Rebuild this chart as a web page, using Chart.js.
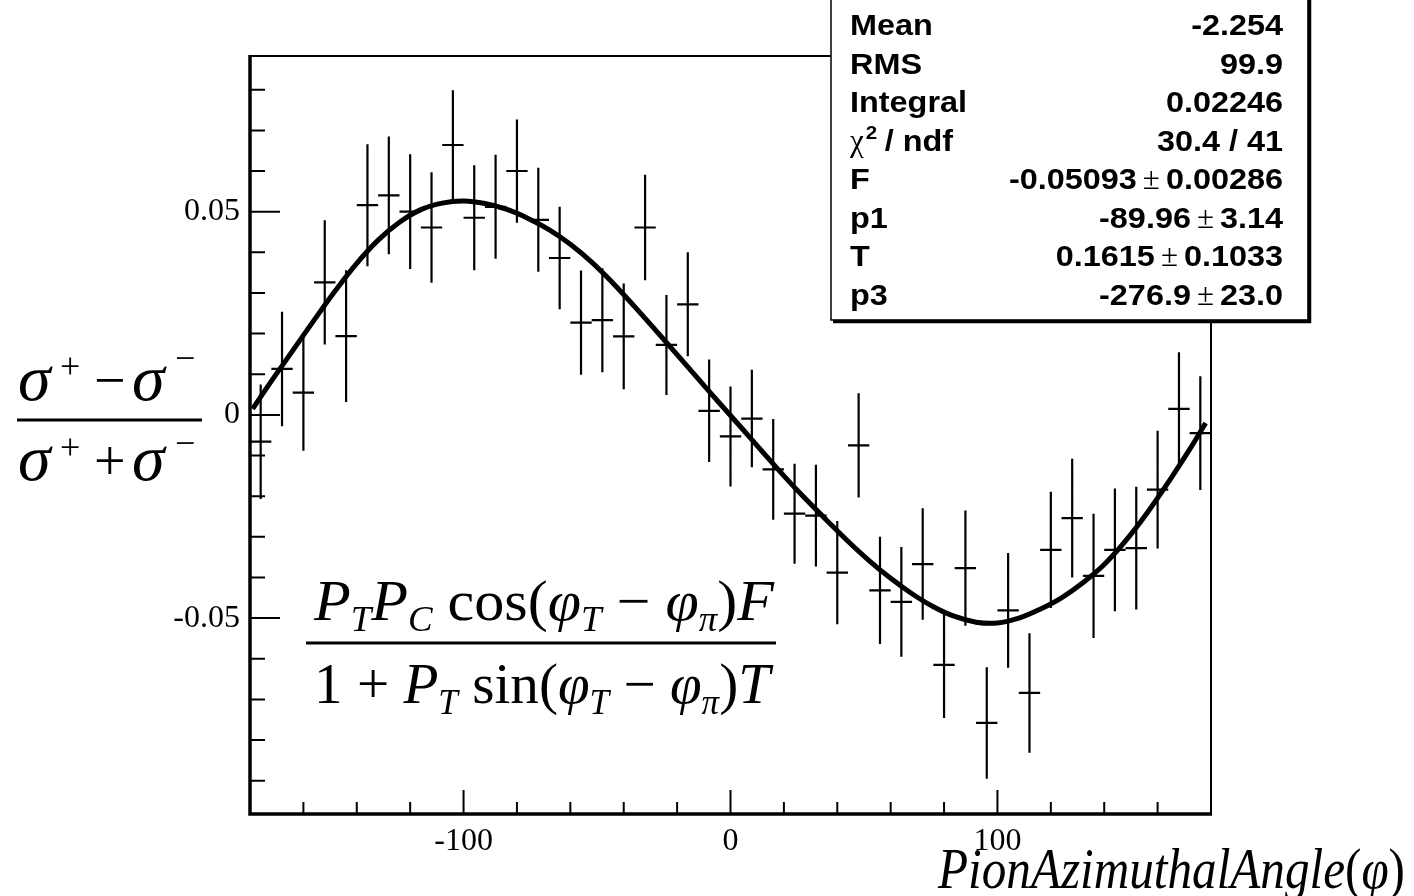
<!DOCTYPE html>
<html lang="en">
<head>
    <meta charset="UTF-8">
    <title>Pion azimuthal asymmetry</title>
    <script src="https://cdn.jsdelivr.net/npm/chart.js"></script>
    <style>
        body { margin: 0; background: #fff; }
        canvas { display: block; }
    </style>
</head>
<body>
    <canvas id="asymChart" width="1414" height="896"></canvas>

    <script>
        // bin centres (8 degree bins from -180 to 180)
        const binCenters = [-176, -168, -160, -152, -144, -136, -128, -120, -112, -104, -96, -88, -80, -72, -64,
            -56, -48, -40, -32, -24, -16, -8, 0, 8, 16, 24, 32, 40, 48, 56, 64, 72, 80, 88, 96, 104, 112,
            120, 128, 136, 144, 152, 160, 168, 176];
        // measured asymmetry per bin
        const asymValues = [-0.0066, 0.0113, 0.0055, 0.0326, 0.0194, 0.0516, 0.0540, 0.0500, 0.0461, 0.0664,
            0.0485, 0.0512, 0.0600, 0.0480, 0.0386, 0.0227, 0.0233, 0.0193, 0.0461, 0.0172, 0.0272, 0.0010,
            -0.0053, -0.0009, -0.0134, -0.0243, -0.0248, -0.0388, -0.0075, -0.0432, -0.0460, -0.0367, -0.0615,
            -0.0377, -0.0758, -0.0481, -0.0684, -0.0332, -0.0254, -0.0396, -0.0332, -0.0328, -0.0184, 0.0015, -0.0045];
        // statistical errors
        const asymErrors = [0.0141, 0.0141, 0.0143, 0.0153, 0.0162, 0.0150, 0.0145, 0.0141, 0.0136, 0.0135,
            0.0129, 0.0128, 0.0127, 0.0128, 0.0126, 0.0128, 0.0128, 0.0130, 0.0130, 0.0123, 0.0128, 0.0126,
            0.0123, 0.0120, 0.0124, 0.0123, 0.0125, 0.0127, 0.0128, 0.0132, 0.0135, 0.0137, 0.0131,
            0.0142, 0.0137, 0.0141, 0.0147, 0.0143, 0.0146, 0.0153, 0.0151, 0.0151, 0.0145, 0.0139, 0.0140];

        // fit curve
        const fitX = [-179, -172, -164, -156, -148, -140, -132, -124, -116, -108, -100, -92, -84, -76, -68, -60,
            -52, -44, -36, -28, -20, -12, -4, 4, 12, 20, 28, 36, 44, 52, 60, 68, 76, 84, 92, 100, 108, 116,
            124, 132, 140, 148, 156, 164, 172, 178];
        const fitY = [0.0015, 0.0083, 0.0158, 0.0233, 0.0306, 0.0373, 0.0430, 0.0474, 0.0505, 0.0521, 0.0526,
            0.0520, 0.0506, 0.0484, 0.0456, 0.0420, 0.0376, 0.0324, 0.0267, 0.0208, 0.0148, 0.0088, 0.0028,
            -0.0031, -0.0091, -0.0150, -0.0206, -0.0259, -0.0311, -0.0359, -0.0402, -0.0440, -0.0472, -0.0496,
            -0.0510, -0.0512, -0.0500, -0.0478, -0.0450, -0.0413, -0.0368, -0.0310, -0.0242, -0.0166, -0.0085, -0.0020];

        // axis ticks
        const xLabelTicks = [-100, 0, 100];
        const xMinorTicks = [-160, -140, -120, -80, -60, -40, -20, 20, 40, 60, 80, 120, 140, 160];
        const yLabelTicks = [-0.05, 0, 0.05];
        const yMinorTicks = [-0.09, -0.08, -0.07, -0.06, -0.04, -0.03, -0.02, -0.01, 0.01, 0.02, 0.03, 0.04, 0.06, 0.07, 0.08];

        // stats box
        const statNames = ['Mean', 'RMS', 'Integral', 'chi2', 'F', 'p1', 'T', 'p3'];
        const statValues = ['-2.254', '99.9', '0.02246', '30.4 / 41', '-0.05093', '-89.96', '0.1615', '-276.9'];
        const statErrors = ['', '', '', '', '0.00286', '3.14', '0.1033', '23.0'];

        const serif = '"Liberation Serif", "Times New Roman", serif';
        const sans = '"Liberation Sans", Arial, sans-serif';

        // draws a run of text pieces (italic / subscript / superscript), optionally squeezed to a width
        function drawRich(ctx, segs, x, baseline, size, targetW) {
            const fontOf = s => (s.it ? 'italic ' : '') + Math.round(s.sub || s.sup ? size * 0.62 : size) + 'px ' + serif;
            let total = 0;
            segs.forEach(s => {
                ctx.font = fontOf(s);
                s.w = ctx.measureText(s.t).width;
                total += s.w;
            });
            const k = targetW ? targetW / total : 1;
            ctx.save();
            ctx.translate(x, baseline);
            ctx.scale(k, 1);
            ctx.textAlign = 'left';
            ctx.textBaseline = 'alphabetic';
            let cx = 0;
            segs.forEach(s => {
                ctx.font = fontOf(s);
                const dy = s.sub ? size * 0.2 : (s.sup ? -size * 0.42 : 0);
                ctx.fillText(s.t, cx, dy);
                cx += s.w;
            });
            ctx.restore();
        }

        // text stretched a little sideways, returns its drawn width
        function wideText(ctx, text, x, y, align, font, sx) {
            ctx.save();
            ctx.font = font;
            ctx.textAlign = align;
            ctx.translate(x, y);
            ctx.scale(sx, 1);
            ctx.fillText(text, 0, 0);
            const w = ctx.measureText(text).width * sx;
            ctx.restore();
            return w;
        }

        const rootStyle = {
            id: 'rootStyle',
            beforeDatasetsDraw(chart) {
                const ctx = chart.ctx;
                const xs = chart.scales.x, ys = chart.scales.y;
                ctx.save();
                ctx.strokeStyle = '#000';
                ctx.lineWidth = 2.2;
                ctx.beginPath();
                binCenters.forEach((c, i) => {
                    const px = xs.getPixelForValue(c);
                    const py = ys.getPixelForValue(asymValues[i]);
                    ctx.moveTo(px, ys.getPixelForValue(asymValues[i] + asymErrors[i]));
                    ctx.lineTo(px, ys.getPixelForValue(asymValues[i] - asymErrors[i]));
                    ctx.moveTo(xs.getPixelForValue(c - 4), py);
                    ctx.lineTo(xs.getPixelForValue(c + 4), py);
                });
                ctx.stroke();
                ctx.restore();
            },
            afterDraw(chart) {
                const ctx = chart.ctx;
                const xs = chart.scales.x, ys = chart.scales.y;
                const a = chart.chartArea;
                ctx.save();
                ctx.fillStyle = '#000';
                ctx.strokeStyle = '#000';

                // frame
                ctx.lineWidth = 2;
                ctx.strokeRect(a.left, a.top, a.right - a.left, a.bottom - a.top);
                ctx.lineWidth = 3.5;
                ctx.beginPath();
                ctx.moveTo(a.left, a.top - 1);
                ctx.lineTo(a.left, a.bottom);
                ctx.lineTo(a.right + 1, a.bottom);
                ctx.stroke();

                // ticks pointing into the frame
                ctx.lineWidth = 2;
                ctx.beginPath();
                xMinorTicks.forEach(v => {
                    const p = xs.getPixelForValue(v);
                    ctx.moveTo(p, a.bottom); ctx.lineTo(p, a.bottom - 12);
                });
                xLabelTicks.forEach(v => {
                    const p = xs.getPixelForValue(v);
                    ctx.moveTo(p, a.bottom); ctx.lineTo(p, a.bottom - 24);
                });
                yMinorTicks.forEach(v => {
                    const p = ys.getPixelForValue(v);
                    ctx.moveTo(a.left, p); ctx.lineTo(a.left + 15, p);
                });
                yLabelTicks.forEach(v => {
                    const p = ys.getPixelForValue(v);
                    ctx.moveTo(a.left, p); ctx.lineTo(a.left + 30, p);
                });
                ctx.stroke();

                // y title: (s+ - s-)/(s+ + s-)
                ctx.textBaseline = 'alphabetic';
                ctx.textAlign = 'left';
                ctx.font = 'italic 66px ' + serif;
                ctx.fillText('σ', 18, 400);
                ctx.fillText('σ', 132, 400);
                ctx.fillText('σ', 18, 480);
                ctx.fillText('σ', 132, 480);
                ctx.font = '36px ' + serif;
                ctx.fillText('+', 60, 378);
                ctx.fillText('\u2212', 175, 370);
                ctx.fillText('+', 60, 459);
                ctx.fillText('\u2212', 175, 455);
                ctx.font = '56px ' + serif;
                ctx.fillText('\u2212', 94, 399);
                ctx.fillText('+', 94, 480);
                ctx.lineWidth = 3;
                ctx.beginPath();
                ctx.moveTo(17, 420); ctx.lineTo(202, 420);
                ctx.stroke();

                // fit function
                drawRich(ctx, [
                    { t: 'P', it: true }, { t: 'T', it: true, sub: true }, { t: 'P', it: true },
                    { t: 'C', it: true, sub: true }, { t: ' cos(' }, { t: 'φ', it: true },
                    { t: 'T', it: true, sub: true }, { t: ' \u2212 ' }, { t: 'φ', it: true },
                    { t: 'π', it: true, sub: true }, { t: ')' }, { t: 'F', it: true }
                ], 314, 620, 57, 460);
                drawRich(ctx, [
                    { t: '1 + ' }, { t: 'P', it: true }, { t: 'T', it: true, sub: true }, { t: ' sin(' },
                    { t: 'φ', it: true }, { t: 'T', it: true, sub: true }, { t: ' \u2212 ' },
                    { t: 'φ', it: true }, { t: 'π', it: true, sub: true }, { t: ')' }, { t: 'T', it: true }
                ], 314, 703, 57, 456);
                ctx.beginPath();
                ctx.moveTo(306, 643); ctx.lineTo(776, 643);
                ctx.stroke();

                // x title
                drawRich(ctx, [
                    { t: 'PionAzimuthalAngle', it: true }, { t: '(' }, { t: 'φ', it: true }, { t: ')' }
                ], 938, 888, 56, 467);

                // stats box
                const bx = 831, br = 1308, bb = 320;
                ctx.fillStyle = '#fff';
                ctx.fillRect(bx, -5, br - bx, bb + 5);
                ctx.lineWidth = 1.5;
                ctx.strokeRect(bx, -5, br - bx, bb + 5);
                ctx.lineWidth = 3.5;
                ctx.beginPath();
                ctx.moveTo(br + 1.5, -5); ctx.lineTo(br + 1.5, bb + 1.5); ctx.lineTo(bx + 2, bb + 1.5);
                ctx.stroke();

                ctx.fillStyle = '#000';
                const bold = 'bold 30px ' + sans;
                const sx = 1.08;
                statNames.forEach((name, i) => {
                    const y = 35 + 38.5 * i;
                    if (name === 'chi2') {
                        const w = wideText(ctx, 'χ', 850, y, 'left', '31px ' + serif, 1);
                        wideText(ctx, '2', 850 + w + 2, y - 12, 'left', 'bold 19px ' + sans, sx);
                        wideText(ctx, ' / ndf', 850 + w + 12, y, 'left', bold, sx);
                    } else {
                        wideText(ctx, name, 850, y, 'left', bold, sx);
                    }
                    let rx = 1283;
                    if (statErrors[i]) {
                        rx -= wideText(ctx, statErrors[i], rx, y, 'right', bold, sx) + 6;
                        rx -= wideText(ctx, '±', rx, y, 'right', '31px ' + serif, 1) + 6;
                    }
                    wideText(ctx, statValues[i], rx, y, 'right', bold, sx);
                });
                ctx.restore();
            }
        };

        const ctx = document.getElementById('asymChart').getContext('2d');
        const asymChart = new Chart(ctx, {
            type: 'scatter',
            data: {
                datasets: [{
                    label: 'asymmetry',
                    data: binCenters.map((c, i) => ({ x: c, y: asymValues[i] })),
                    pointRadius: 0,
                    showLine: false
                }, {
                    label: 'fit',
                    data: fitX.map((x, i) => ({ x: x, y: fitY[i] })),
                    showLine: true,
                    borderColor: '#000',
                    borderWidth: 5,
                    pointRadius: 0,
                    tension: 0.4
                }]
            },
            options: {
                responsive: false,
                animation: false,
                layout: { padding: { left: 0, top: 56, right: 203, bottom: 0 } },
                plugins: {
                    legend: { display: false },
                    tooltip: { enabled: false }
                },
                scales: {
                    x: {
                        type: 'linear',
                        min: -180,
                        max: 180,
                        afterBuildTicks: s => { s.ticks = xLabelTicks.map(v => ({ value: v })); },
                        afterFit: s => { s.height = 82; },
                        grid: { display: false, drawTicks: false },
                        border: { display: false },
                        ticks: {
                            padding: 8,
                            color: '#000',
                            maxRotation: 0,
                            font: { family: serif, size: 32 },
                            callback: v => String(v)
                        }
                    },
                    y: {
                        type: 'linear',
                        min: -0.0982,
                        max: 0.0883,
                        afterBuildTicks: s => { s.ticks = yLabelTicks.map(v => ({ value: v })); },
                        afterFit: s => { s.width = 250; },
                        grid: { display: false, drawTicks: false },
                        border: { display: false },
                        ticks: {
                            padding: 10,
                            color: '#000',
                            font: { family: serif, size: 32 },
                            callback: v => (v === 0 ? '0' : v.toFixed(2))
                        }
                    }
                }
            },
            plugins: [rootStyle]
        });
    </script>
</body>
</html>
